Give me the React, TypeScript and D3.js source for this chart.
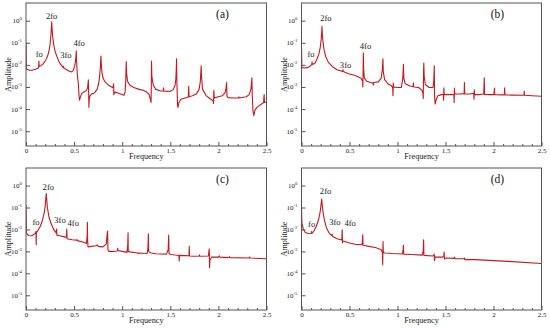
import React, { useEffect, useRef } from "react";
import * as d3 from "d3";

// spectra: [frequency, amplitude]
const spectrumA: [number, number][] = [
  [0, 0.1], [0.004, 0.0065], [0.03, 0.0058], [0.06, 0.0057], [0.1, 0.0063], [0.128, 0.0072],
  [0.132, 0.0085], [0.134, 0.015], [0.137, 0.0085], [0.16, 0.0095], [0.18, 0.0115], [0.2, 0.015],
  [0.215, 0.02], [0.23, 0.03], [0.242, 0.05], [0.252, 0.1], [0.26, 0.25], [0.265, 0.6], [0.267, 0.9],
  [0.27, 0.5], [0.277, 0.2], [0.287, 0.09], [0.3, 0.045], [0.319, 0.025], [0.34, 0.015], [0.36, 0.0105],
  [0.385, 0.0078], [0.388, 0.0087], [0.391, 0.0074], [0.42, 0.0062], [0.45, 0.0052], [0.474, 0.0048],
  [0.49, 0.0055], [0.505, 0.0085], [0.515, 0.015], [0.521, 0.03], [0.523, 0.043], [0.526, 0.015],
  [0.533, 0.004], [0.545, 0.0012], [0.551, 0.0004], [0.556, 0.00025], [0.565, 0.00035], [0.578, 0.0005],
  [0.6, 0.00059], [0.625, 0.00068], [0.64, 0.0009], [0.646, 0.0016], [0.648, 0.0021], [0.651, 0.0006],
  [0.654, 0.00012], [0.658, 0.0003], [0.665, 0.0004], [0.68, 0.00048], [0.7, 0.0005], [0.72, 0.0006],
  [0.74, 0.0008], [0.755, 0.0014], [0.765, 0.003], [0.773, 0.008], [0.777, 0.018], [0.779, 0.025],
  [0.782, 0.012], [0.79, 0.0045], [0.8, 0.0026], [0.821, 0.0017], [0.85, 0.0013], [0.873, 0.0011],
  [0.9, 0.00095], [0.909, 0.0011], [0.911, 0.0014], [0.913, 0.00045], [0.917, 0.0005], [0.93, 0.0006],
  [0.976, 0.0005], [1.018, 0.00042], [1.03, 0.0006], [1.037, 0.002], [1.042, 0.014], [1.046, 0.004],
  [1.056, 0.0018], [1.08, 0.0012], [1.12, 0.00095], [1.184, 0.00076], [1.22, 0.00071], [1.253, 0.0006],
  [1.28, 0.00045], [1.295, 0.00025], [1.3, 0.0002], [1.303, 0.0015], [1.305, 0.015], [1.308, 0.003],
  [1.323, 0.0012], [1.35, 0.00078], [1.4, 0.00066], [1.427, 0.00066], [1.43, 0.00093], [1.433, 0.00066],
  [1.46, 0.00063], [1.5, 0.00064], [1.53, 0.00076], [1.55, 0.0012], [1.558, 0.0025], [1.563, 0.008],
  [1.565, 0.019], [1.568, 0.002], [1.575, 0.00015], [1.58, 0.00012], [1.59, 0.0002], [1.61, 0.00028],
  [1.652, 0.00032], [1.688, 0.00035], [1.691, 0.00107], [1.695, 0.00036], [1.73, 0.0004], [1.773, 0.0005],
  [1.8, 0.0008], [1.812, 0.0018], [1.818, 0.005], [1.821, 0.009], [1.825, 0.003], [1.835, 0.0008],
  [1.87, 0.00042], [1.91, 0.0003], [1.945, 0.00024], [1.949, 0.00018], [1.953, 0.00071], [1.957, 0.00032],
  [1.99, 0.00035], [2.04, 0.0004], [2.07, 0.00055], [2.08, 0.0009], [2.085, 0.0016], [2.089, 0.00038],
  [2.1, 0.00033], [2.154, 0.00032], [2.21, 0.00032], [2.213, 0.00036], [2.216, 0.00032], [2.29, 0.00036],
  [2.32, 0.00045], [2.338, 0.0008], [2.345, 0.0016], [2.348, 0.0026], [2.352, 0.0004], [2.36, 0.00008],
  [2.368, 0.00005], [2.38, 0.00009], [2.4, 0.00012], [2.448, 0.00017], [2.47, 0.0002], [2.473, 0.00035],
  [2.476, 0.00045], [2.479, 0.0002], [2.5, 0.00021],
];

const spectrumB: [number, number][] = [
  [0, 0.08], [0.004, 0.0075], [0.03, 0.0072], [0.06, 0.0075], [0.09, 0.0087], [0.108, 0.0105],
  [0.11, 0.0137], [0.112, 0.0105], [0.14, 0.012], [0.16, 0.018], [0.18, 0.03], [0.195, 0.06],
  [0.205, 0.14], [0.21, 0.3], [0.213, 0.55], [0.216, 0.3], [0.222, 0.13], [0.235, 0.05], [0.25, 0.025],
  [0.28, 0.013], [0.32, 0.0085], [0.37, 0.006], [0.42, 0.0052], [0.43, 0.0051], [0.432, 0.0062],
  [0.435, 0.005], [0.49, 0.004], [0.56, 0.0033], [0.62, 0.0025], [0.637, 0.0018], [0.639, 0.001],
  [0.642, 0.006], [0.644, 0.035], [0.648, 0.006], [0.655, 0.0025], [0.68, 0.0018], [0.72, 0.0016],
  [0.745, 0.0015], [0.748, 0.0012], [0.751, 0.0016], [0.8, 0.0017], [0.83, 0.0025], [0.842, 0.006],
  [0.848, 0.019], [0.852, 0.005], [0.865, 0.0022], [0.9, 0.0014], [0.94, 0.0011], [0.95, 0.0009],
  [0.953, 0.0004], [0.956, 0.0015], [0.96, 0.001], [1.0, 0.00095], [1.04, 0.00095], [1.055, 0.0025],
  [1.062, 0.0105], [1.066, 0.0025], [1.08, 0.0014], [1.13, 0.0011], [1.163, 0.00105], [1.166, 0.0015],
  [1.169, 0.001], [1.22, 0.00095], [1.255, 0.0007], [1.265, 0.0005], [1.268, 0.0003], [1.272, 0.006],
  [1.274, 0.012], [1.278, 0.003], [1.29, 0.0013], [1.33, 0.00095], [1.37, 0.00095], [1.378, 0.002],
  [1.383, 0.009], [1.386, 0.0004], [1.392, 0.00017], [1.4, 0.00025], [1.42, 0.0004], [1.46, 0.00045],
  [1.478, 0.00047], [1.48, 0.00025], [1.483, 0.00093], [1.487, 0.00045], [1.55, 0.00045], [1.588, 0.00045],
  [1.59, 0.0002], [1.593, 0.0009], [1.597, 0.00048], [1.65, 0.00048], [1.694, 0.0005], [1.697, 0.0016],
  [1.7, 0.00048], [1.75, 0.00048], [1.794, 0.00052], [1.797, 0.00028], [1.8, 0.00075], [1.803, 0.00045],
  [1.85, 0.00045], [1.898, 0.00048], [1.904, 0.0026], [1.907, 0.00046], [1.96, 0.00045], [2.005, 0.00045],
  [2.01, 0.0009], [2.013, 0.00045], [2.1, 0.00044], [2.113, 0.00045], [2.116, 0.00093], [2.119, 0.00044],
  [2.2, 0.00043], [2.317, 0.00042], [2.32, 0.00066], [2.323, 0.00042], [2.4, 0.0004], [2.5, 0.00038],
];

const spectrumC: [number, number][] = [
  [0, 0.13], [0.004, 0.0085], [0.01, 0.006], [0.03, 0.0053], [0.06, 0.0052], [0.09, 0.0063], [0.1, 0.0072],
  [0.104, 0.0081], [0.106, 0.002], [0.108, 0.0072], [0.12, 0.0085], [0.145, 0.013], [0.17, 0.025],
  [0.19, 0.06], [0.2, 0.12], [0.207, 0.3], [0.211, 0.43], [0.215, 0.25], [0.222, 0.1], [0.24, 0.035],
  [0.26, 0.019], [0.29, 0.0095], [0.314, 0.007], [0.318, 0.0104], [0.321, 0.0055], [0.35, 0.0052],
  [0.4, 0.0046], [0.42, 0.0044], [0.424, 0.0104], [0.427, 0.0038], [0.48, 0.0034], [0.527, 0.0032],
  [0.53, 0.0035], [0.533, 0.0031], [0.6, 0.0026], [0.628, 0.0023], [0.636, 0.005], [0.638, 0.021],
  [0.641, 0.003], [0.645, 0.0016], [0.68, 0.0017], [0.73, 0.0018], [0.742, 0.002], [0.75, 0.0017],
  [0.8, 0.0016], [0.835, 0.0022], [0.843, 0.006], [0.848, 0.0085], [0.852, 0.0012], [0.86, 0.001],
  [0.9, 0.001], [0.95, 0.00105], [0.953, 0.0014], [0.956, 0.0011], [1.0, 0.001], [1.05, 0.0009],
  [1.057, 0.0017], [1.061, 0.007], [1.063, 0.001], [1.08, 0.00095], [1.16, 0.00085], [1.166, 0.00078],
  [1.17, 0.00085], [1.26, 0.0008], [1.268, 0.0015], [1.272, 0.0064], [1.275, 0.001], [1.3, 0.00085],
  [1.35, 0.00078], [1.46, 0.00075], [1.478, 0.0012], [1.483, 0.0055], [1.487, 0.0008], [1.5, 0.00072],
  [1.55, 0.00068], [1.59, 0.00066], [1.593, 0.00037], [1.596, 0.00066], [1.65, 0.00064], [1.694, 0.00063],
  [1.697, 0.0017], [1.7, 0.00062], [1.75, 0.0006], [1.8, 0.00062], [1.803, 0.00069], [1.806, 0.0006],
  [1.895, 0.00062], [1.905, 0.0013], [1.908, 0.00018], [1.912, 0.0004], [1.93, 0.00055], [2.0, 0.00055],
  [2.01, 0.00062], [2.015, 0.00055], [2.1, 0.00052], [2.116, 0.00058], [2.12, 0.00052], [2.32, 0.0005],
  [2.325, 0.00056], [2.33, 0.0005], [2.5, 0.00046],
];

const spectrumD: [number, number][] = [
  [0, 0.1], [0.004, 0.02], [0.02, 0.01], [0.04, 0.0072], [0.07, 0.0065], [0.1, 0.0067], [0.104, 0.0073],
  [0.106, 0.0081], [0.108, 0.0066], [0.13, 0.0085], [0.155, 0.014], [0.18, 0.03], [0.196, 0.07],
  [0.205, 0.15], [0.211, 0.24], [0.215, 0.14], [0.225, 0.06], [0.24, 0.025], [0.26, 0.012], [0.29, 0.0065],
  [0.316, 0.0053], [0.319, 0.0062], [0.322, 0.0049], [0.37, 0.0038], [0.42, 0.0033], [0.424, 0.0096],
  [0.427, 0.0025], [0.432, 0.003], [0.5, 0.0024], [0.56, 0.0021], [0.63, 0.002], [0.636, 0.0035],
  [0.638, 0.0057], [0.641, 0.0019], [0.7, 0.0017], [0.77, 0.0015], [0.83, 0.0012], [0.843, 0.0009],
  [0.846, 0.00025], [0.849, 0.0028], [0.853, 0.0009], [0.87, 0.00085], [0.95, 0.0008], [1.05, 0.00076],
  [1.058, 0.0011], [1.062, 0.0019], [1.065, 0.00075], [1.15, 0.00072], [1.26, 0.00068], [1.268, 0.0011],
  [1.272, 0.0034], [1.275, 0.00066], [1.37, 0.00062], [1.38, 0.00068], [1.383, 0.00076], [1.385, 0.00038],
  [1.39, 0.00055], [1.47, 0.00055], [1.482, 0.00062], [1.486, 0.00093], [1.489, 0.00045], [1.495, 0.0005],
  [1.59, 0.00048], [1.595, 0.00055], [1.6, 0.00047], [1.69, 0.00046], [1.697, 0.0005], [1.7, 0.00042],
  [1.81, 0.00042], [2.0, 0.00038], [2.15, 0.00035], [2.5, 0.00028],
];

// peak annotations placed in data coordinates
const notesA = [
  { label: "fo", f: 0.138, amp: 0.03 }, { label: "2fo", f: 0.267, amp: 1.7 },
  { label: "3fo", f: 0.415, amp: 0.028 }, { label: "4fo", f: 0.553, amp: 0.094 },
];
const notesB = [
  { label: "fo", f: 0.099, amp: 0.031 }, { label: "2fo", f: 0.254, amp: 1.37 },
  { label: "3fo", f: 0.459, amp: 0.0094 }, { label: "4fo", f: 0.667, amp: 0.073 },
];
const notesC = [
  { label: "fo", f: 0.104, amp: 0.022 }, { label: "2fo", f: 0.232, amp: 0.89 },
  { label: "3fo", f: 0.353, amp: 0.027 }, { label: "4fo", f: 0.491, amp: 0.019 },
];
const notesD = [
  { label: "fo", f: 0.106, amp: 0.018 }, { label: "2fo", f: 0.251, amp: 0.59 },
  { label: "3fo", f: 0.348, amp: 0.022 }, { label: "4fo", f: 0.507, amp: 0.02 },
];

const xTicks = [0, 0.5, 1, 1.5, 2, 2.5];
const xMinor = [0.1, 0.2, 0.3, 0.4, 0.6, 0.7, 0.8, 0.9, 1.1, 1.2, 1.3, 1.4, 1.6, 1.7, 1.8, 1.9, 2.1, 2.2, 2.3, 2.4];
const yExponents = [0, -1, -2, -3, -4, -5];

const FONT = "'Liberation Serif', 'Times New Roman', serif";

type PanelProps = {
  tag: string;
  spectrum: [number, number][];
  notes: { label: string; f: number; amp: number }[];
  left: number;
  top: number;
  width: number;
  height: number;
};

function Panel({ tag, spectrum, notes, left, top, width, height }: PanelProps) {
  const ref = useRef<SVGGElement>(null);

  useEffect(() => {
    const g = d3.select(ref.current);
    g.selectAll("*").remove();

    const x = d3.scaleLinear().domain([0, 2.5]).range([0, width]);
    const y = d3.scaleLog().domain([10 ** -5.67, 10 ** 0.8]).range([height, 0]);

    const clipId = `clip-${tag}`;
    g.append("clipPath").attr("id", clipId)
      .append("rect").attr("width", width).attr("height", height);

    const line = d3.line<[number, number]>()
      .x((d) => x(d[0]))
      .y((d) => y(d[1]));

    g.append("path")
      .datum(spectrum)
      .attr("clip-path", `url(#${clipId})`)
      .attr("fill", "none")
      .attr("stroke", "#c8161d")
      .attr("stroke-width", 1.1)
      .attr("stroke-linejoin", "round")
      .attr("d", line);

    // frame
    g.append("rect")
      .attr("width", width).attr("height", height)
      .attr("fill", "none").attr("stroke", "#555").attr("stroke-width", 1);

    // x axis: major + minor ticks pointing inward
    const xAxis = g.append("g").attr("transform", `translate(0,${height})`)
      .call(d3.axisBottom(x).tickValues(xTicks).tickSize(-4).tickSizeOuter(0).tickPadding(2)
        .tickFormat((d) => String(d)));
    xAxis.select(".domain").remove();
    xAxis.selectAll("line").attr("stroke", "#555");
    xAxis.selectAll("text").attr("font-family", FONT).attr("font-size", 7).attr("fill", "#222");

    const xMinorAxis = g.append("g").attr("transform", `translate(0,${height})`)
      .call(d3.axisBottom(x).tickValues(xMinor).tickSize(-2).tickSizeOuter(0).tickFormat(() => ""));
    xMinorAxis.select(".domain").remove();
    xMinorAxis.selectAll("line").attr("stroke", "#555");

    // y axis: decades, labels as 10^n
    const yAxis = g.append("g")
      .call(d3.axisLeft(y).tickValues(yExponents.map((e) => 10 ** e)).tickSize(-4).tickSizeOuter(0)
        .tickFormat(() => ""));
    yAxis.select(".domain").remove();
    yAxis.selectAll("line").attr("stroke", "#555");

    const yLabels = g.append("g")
      .selectAll("text")
      .data(yExponents)
      .join("text")
      .attr("x", -4)
      .attr("y", (e) => y(10 ** e) + 2.5)
      .attr("text-anchor", "end")
      .attr("font-family", FONT)
      .attr("font-size", 7)
      .attr("fill", "#222");
    yLabels.append("tspan").text("10");
    yLabels.append("tspan").attr("dy", -3).attr("font-size", 4.8).text((e) => String(e));

    // axis titles
    g.append("text")
      .attr("x", width / 2).attr("y", height + 13)
      .attr("text-anchor", "middle")
      .attr("font-family", FONT).attr("font-size", 8.2).attr("fill", "#222")
      .text("Frequency");

    g.append("text")
      .attr("transform", `translate(-15,${height / 2}) rotate(-90)`)
      .attr("text-anchor", "middle")
      .attr("font-family", FONT).attr("font-size", 8.2).attr("fill", "#222")
      .text("Amplitude");

    // panel tag
    g.append("text")
      .attr("x", width - 44).attr("y", 15)
      .attr("text-anchor", "middle")
      .attr("font-family", FONT).attr("font-size", 11.5).attr("fill", "#111")
      .text(`(${tag})`);

    // peak labels
    g.append("g")
      .selectAll("text")
      .data(notes)
      .join("text")
      .attr("x", (d) => x(d.f))
      .attr("y", (d) => y(d.amp))
      .attr("dy", "0.35em")
      .attr("text-anchor", "middle")
      .attr("font-family", FONT)
      .attr("font-size", 8.6)
      .attr("fill", "#222")
      .text((d) => d.label);
  }, [tag, spectrum, notes, left, top, width, height]);

  return <g ref={ref} transform={`translate(${left},${top})`} />;
}

export default function App() {
  return (
    <svg
      width={550}
      height={328}
      style={{ position: "absolute", left: 0, top: 0, background: "#fff" }}
    >
      <Panel tag="a" spectrum={spectrumA} notes={notesA} left={26} top={3} width={240.5} height={143} />
      <Panel tag="b" spectrum={spectrumB} notes={notesB} left={301.5} top={3} width={240} height={143} />
      <Panel tag="c" spectrum={spectrumC} notes={notesC} left={26} top={168} width={240.5} height={142} />
      <Panel tag="d" spectrum={spectrumD} notes={notesD} left={301.5} top={168} width={240} height={142} />
    </svg>
  );
}
